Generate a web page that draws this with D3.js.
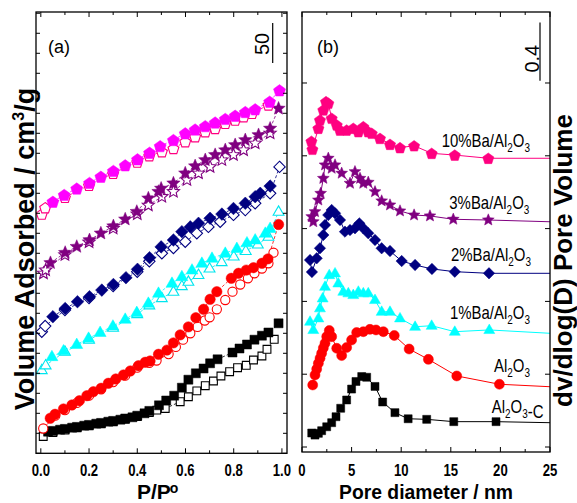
<!DOCTYPE html>
<html><head><meta charset="utf-8">
<script src="https://cdn.jsdelivr.net/npm/d3@7"></script>
<style>
body{margin:0;background:#fff}
svg{display:block}
text{font-family:"Liberation Sans",Arial,sans-serif}
</style>
</head><body>
<svg id="c" width="577" height="503"></svg>
<script>
// ---------------- Panel (a): N2 isotherms, [P/P0, volume (cm3/g, stacked)] ----------------
const alC_ads = [[0.03,27],[0.05,28],[0.08,29.5],[0.10,30.5],[0.13,32],[0.15,33],[0.18,34.5],[0.20,35.5],[0.23,37],[0.25,38],[0.28,39.5],[0.30,40.5],[0.33,42],[0.35,43.5],[0.38,45],[0.40,47],[0.43,50],[0.45,53],[0.49,60],[0.52,66],[0.553,72],[0.585,82],[0.612,92],[0.643,100],[0.675,106],[0.702,112.5],[0.733,117.5],[0.795,126],[0.824,131],[0.855,136],[0.886,142],[0.917,147],[0.944,151],[0.986,162.5]];
const alC_des = [[0.01,21],[0.05,26],[0.10,29],[0.15,32],[0.20,34.5],[0.25,37],[0.30,39.5],[0.35,42.5],[0.40,46],[0.45,51],[0.481,54],[0.516,56],[0.578,64.5],[0.612,70.7],[0.647,78],[0.682,84.5],[0.716,90.4],[0.747,96.6],[0.783,102],[0.816,107],[0.852,110],[0.882,116.6],[0.917,121.6],[0.938,130],[0.968,142.5]];
const al_ads = [[0.039,43.75],[0.059,48.75],[0.094,55.4],[0.129,60.4],[0.160,65.75],[0.191,72],[0.218,77],[0.250,81.25],[0.280,87.5],[0.311,92.9],[0.343,97.9],[0.371,102.9],[0.405,109.5],[0.433,113.75],[0.453,115.4],[0.488,123.75],[0.523,129],[0.550,138],[0.578,148],[0.612,158],[0.643,169.5],[0.675,180],[0.702,192.5],[0.730,202],[0.790,218.75],[0.820,225],[0.852,229],[0.882,232],[0.917,237.5],[0.942,243],[0.986,286]];
const al_des = [[0.01,31],[0.06,47],[0.10,54],[0.15,63],[0.20,72],[0.25,80],[0.30,89],[0.35,97],[0.40,107],[0.45,113],[0.48,116],[0.53,124],[0.56,133],[0.59,142],[0.62,150],[0.65,158],[0.68,166],[0.70,170],[0.73,180],[0.765,191.6],[0.795,202],[0.827,211],[0.859,218.75],[0.886,225],[0.917,231],[0.944,237.5],[0.965,250.75]];
const ba1_ads = [[0.046,120.75],[0.094,128],[0.149,136],[0.198,143.75],[0.246,151],[0.299,159],[0.350,167.5],[0.398,176],[0.446,187.5],[0.488,200],[0.544,212.5],[0.585,220.75],[0.627,229],[0.668,237.5],[0.710,243.75],[0.765,250],[0.813,256],[0.855,263],[0.889,266.6],[0.931,275],[0.951,281]];
const ba1_des = [[0.004,104],[0.02,110],[0.10,127],[0.20,142],[0.30,157],[0.40,174],[0.45,185],[0.502,194],[0.550,202],[0.585,209],[0.612,214.5],[0.654,223],[0.70,231],[0.75,239],[0.80,246],[0.85,253],[0.90,261],[0.944,270.75],[0.986,302]];
const ba2_ads = [[0.050,170.75],[0.101,181],[0.152,189.5],[0.202,195.75],[0.253,204],[0.301,211],[0.353,219.5],[0.401,230],[0.451,244.5],[0.499,258],[0.550,266.6],[0.585,277],[0.620,283],[0.654,287.5],[0.702,293.75],[0.751,299],[0.799,306],[0.848,312.5],[0.889,320.75],[0.910,325],[0.951,334]];
const ba2_des = [[0.004,152],[0.018,159],[0.10,179],[0.20,194],[0.30,209],[0.40,227],[0.45,240],[0.502,250],[0.55,256.6],[0.599,264.5],[0.647,275],[0.695,283],[0.744,289.5],[0.799,298],[0.848,304],[0.889,312.5],[0.951,325],[0.99,358]];
const ba3_ads = [[0.04,238],[0.101,250.75],[0.149,258.25],[0.202,266.6],[0.249,275],[0.301,284],[0.350,292.5],[0.398,302],[0.446,318.75],[0.488,327],[0.499,331],[0.550,337.5],[0.599,350],[0.640,359],[0.682,366.6],[0.723,373],[0.765,379],[0.806,385.4],[0.848,391.6],[0.903,397.9],[0.951,406],[0.986,431]];
const ba3_des = [[0.011,225],[0.02,229],[0.10,248],[0.20,264],[0.30,281],[0.40,299],[0.446,310],[0.502,320.75],[0.55,327],[0.606,341.6],[0.654,350],[0.702,358],[0.751,366.6],[0.799,373],[0.841,379],[0.889,387.5],[0.951,400]];
const ba10_ads = [[0.050,314.5],[0.097,323],[0.149,331],[0.202,338],[0.249,345.75],[0.301,353],[0.350,360],[0.401,367.5],[0.451,375.75],[0.495,384],[0.550,391.6],[0.599,400],[0.640,404.75],[0.682,409],[0.723,413.5],[0.765,418],[0.806,422],[0.848,426.6],[0.889,430],[0.949,439.5],[0.990,453.75]];
const ba10_des = [[0.004,299],[0.018,307],[0.10,320],[0.20,335],[0.30,350],[0.40,364],[0.45,372],[0.502,377],[0.55,381],[0.599,389.5],[0.64,395.75],[0.682,402],[0.723,406],[0.765,412.5],[0.806,416.6],[0.841,420.75],[0.876,425],[0.944,435.4]];
const xTicksA = [0,0.1,0.2,0.3,0.4,0.5,0.6,0.7,0.8,0.9,1.0];
const scaleBarA = [538, 50];          // top value, length (cm3/g)

// ---------------- Panel (b): pore size distribution, [diameter nm, dV/dlogD (stacked)] ----------------
const psd10 = [[0.95,2.10],[1.05,2.045],[1.65,2.189],[1.81,2.246],[2.15,2.315],[2.42,2.372],[2.65,2.361],[2.99,2.258],[3.5,2.212],[3.83,2.177],[4.5,2.177],[5.17,2.189],[5.68,2.166],[6.18,2.2],[6.68,2.166],[7.03,2.155],[7.86,2.12],[8.87,2.079],[9.88,2.056],[11.3,2.069],[13.07,2.017],[15.4,2.005],[18.78,1.983]];
const psd3 = [[0.98,1.582],[1.14,1.547],[1.31,1.616],[1.65,1.696],[1.88,1.742],[2.15,1.845],[2.32,1.937],[2.65,1.983],[2.99,1.914],[3.33,1.937],[4.0,1.880],[4.84,1.811],[5.34,1.891],[5.85,1.845],[6.18,1.811],[6.68,1.818],[7.36,1.753],[8.03,1.690],[8.87,1.662],[9.88,1.621],[11.3,1.593],[12.9,1.587],[15.25,1.564],[18.78,1.559]];
const psd2 = [[0.81,1.284],[1.0,1.202],[1.48,1.296],[1.81,1.365],[2.15,1.456],[2.32,1.525],[2.65,1.593],[2.99,1.628],[3.33,1.605],[3.83,1.559],[4.33,1.479],[4.84,1.490],[5.34,1.502],[5.78,1.536],[6.18,1.502],[6.68,1.468],[7.36,1.422],[8.03,1.365],[8.87,1.346],[10.05,1.277],[11.4,1.250],[13.1,1.223],[15.4,1.204],[18.85,1.193]];
const psd1 = [[0.81,0.861],[1.14,0.804],[1.65,0.884],[1.81,0.953],[2.08,1.021],[2.32,1.101],[2.75,1.181],[3.33,1.193],[3.66,1.124],[4.16,1.067],[4.67,1.056],[5.17,1.044],[5.68,1.067],[6.18,1.056],[6.68,1.056],[7.36,1.010],[8.03,0.929],[8.87,0.929],[9.88,0.884],[11.4,0.826],[13.07,0.833],[15.4,0.792],[18.88,0.804]];
const psdAl = [[1.08,0.426],[1.31,0.495],[1.48,0.535],[1.65,0.575],[1.82,0.61],[1.98,0.644],[2.15,0.68],[2.32,0.712],[2.49,0.758],[2.75,0.80],[2.99,0.758],[3.5,0.678],[4.0,0.628],[4.5,0.683],[5.0,0.735],[5.51,0.786],[6.18,0.792],[6.85,0.808],[7.46,0.804],[8.2,0.792],[9.3,0.766],[10.8,0.673],[12.74,0.602],[15.6,0.488],[19.9,0.431]];
const psdAlC = [[0.98,0.096],[1.31,0.082],[1.65,0.094],[1.98,0.112],[2.49,0.139],[2.99,0.167],[3.43,0.208],[3.9,0.266],[4.5,0.323],[5.0,0.398],[5.44,0.450],[6.02,0.484],[6.52,0.479],[7.36,0.416],[8.13,0.309],[9.37,0.236],[10.7,0.194],[12.57,0.190],[15.3,0.174],[19.56,0.174]];
const psdTail = [1.983,1.547,1.193,0.781,0.414,0.167];   // value where each curve meets x = 25 nm
const labelsB = ["10%Ba/Al2O3","3%Ba/Al2O3","2%Ba/Al2O3","1%Ba/Al2O3","Al2O3","Al2O3-C"];
const xTicksB = [0,2.5,5,7.5,10,12.5,15,17.5,20,22.5,25];
const yTicksB = [0,0.5,1,1.5,2,2.5];
const scaleBarB = [2.915, 0.4];

// ---------------- drawing ----------------
const svg = d3.select("#c");
const xA = d3.scaleLinear().domain([-0.02,1.021]).range([36,287]);
const yA = d3.scaleLinear().domain([0,551.6]).range([453.3,12]);
const xB = d3.scaleLinear().domain([0,25]).range([302,550]);
const yB = d3.scaleLinear().domain([-0.0343,2.9876]).range([452,12]);

function shape(type, r){
  const p = d3.path();
  if(type==="square"){ p.rect(-r,-r,2*r,2*r); }
  else if(type==="circle"){ p.moveTo(r,0); p.arc(0,0,r,0,2*Math.PI); }
  else if(type==="triangle"){ const h=r*1.732; p.moveTo(0,-h*0.62); p.lineTo(r,h*0.38); p.lineTo(-r,h*0.38); p.closePath(); }
  else if(type==="diamond"){ p.moveTo(0,-r); p.lineTo(r,0); p.lineTo(0,r); p.lineTo(-r,0); p.closePath(); }
  else if(type==="star"){ for(let i=0;i<10;i++){ const a=-Math.PI/2+i*Math.PI/5, rr=i%2?r*0.45:r; const px=rr*Math.cos(a), py=rr*Math.sin(a); i?p.lineTo(px,py):p.moveTo(px,py);} p.closePath(); }
  else if(type==="pentagon"){ for(let i=0;i<5;i++){ const a=-Math.PI/2+i*2*Math.PI/5; const px=r*Math.cos(a), py=r*Math.sin(a)+r*0.1; i?p.lineTo(px,py):p.moveTo(px,py);} p.closePath(); }
  return p.toString();
}

function frame(x,y){
  const [x0,x1]=x.range(), [y0,y1]=y.range();
  svg.append("rect").attr("x",x0).attr("y",y1).attr("width",x1-x0).attr("height",y0-y1)
    .attr("fill","none").attr("stroke","#000").attr("stroke-width",1.3);
}

// --- panel (a) series ---
const seriesA = [
  {ads:alC_ads, des:alC_des, color:"#000000", ocolor:"#000000", type:"square", r:4.5},
  {ads:al_ads, des:al_des, color:"#ff0000", ocolor:"#ff0000", type:"circle", r:5.2},
  {ads:ba1_ads, des:ba1_des, color:"#00ffff", ocolor:"#00e5ee", type:"triangle", r:6},
  {ads:ba2_ads, des:ba2_des, color:"#000080", ocolor:"#000080", type:"diamond", r:6.3},
  {ads:ba3_ads, des:ba3_des, color:"#800080", ocolor:"#800080", type:"star", r:7},
  {ads:ba10_ads, des:ba10_des, color:"#ff00ff", ocolor:"#ff0080", type:"pentagon", r:6.3}
];
const lineA = d3.line().x(d=>xA(d[0])).y(d=>yA(d[1]));
const gA = svg.append("g");
seriesA.forEach(s=>{
  gA.append("path").attr("d",lineA(s.des)).attr("fill","none").attr("stroke",s.ocolor).attr("stroke-width",0.8).attr("stroke-dasharray","3,2");
  gA.append("path").attr("d",lineA(s.ads)).attr("fill","none").attr("stroke",s.color).attr("stroke-width",0.8).attr("stroke-dasharray","3,2");
  gA.selectAll(null).data(s.des).join("path")
    .attr("transform",d=>`translate(${xA(d[0])},${yA(d[1])})`)
    .attr("d",shape(s.type,s.r-0.6)).attr("fill","#fff").attr("stroke",s.ocolor).attr("stroke-width",1.1);
  gA.selectAll(null).data(s.ads).join("path")
    .attr("transform",d=>`translate(${xA(d[0])},${yA(d[1])})`)
    .attr("d",shape(s.type,s.r)).attr("fill",s.color).attr("stroke",s.color).attr("stroke-width",0.5);
});

// --- panel (b) series ---
const seriesB = [
  {data:psd10, color:"#ff0080", type:"pentagon", r:5.9},
  {data:psd3, color:"#800080", type:"star", r:6.2},
  {data:psd2, color:"#000080", type:"diamond", r:5.7},
  {data:psd1, color:"#00ffff", type:"triangle", r:5.5},
  {data:psdAl, color:"#ff0000", type:"circle", r:5},
  {data:psdAlC, color:"#000000", type:"square", r:4}
];
const lineB = d3.line().x(d=>xB(d[0])).y(d=>yB(d[1]));
const gB = svg.append("g");
seriesB.forEach((s,i)=>{
  const full = s.data.concat([[25, psdTail[i]]]);
  gB.append("path").attr("d",lineB(full)).attr("fill","none").attr("stroke",s.color).attr("stroke-width",1);
  gB.selectAll(null).data(s.data).join("path")
    .attr("transform",d=>`translate(${xB(d[0])},${yB(d[1])})`)
    .attr("d",shape(s.type,s.r)).attr("fill",s.color).attr("stroke",s.color).attr("stroke-width",0.5);
});

// frames
frame(xA,yA); frame(xB,yB);

// ticks helper
function ticksX(x,y,vals,isMajor){
  const [y0,y1]=y.range();
  vals.forEach(v=>{
    const L = isMajor(v)?5:3, px=x(v);
    svg.append("line").attr("x1",px).attr("x2",px).attr("y1",y0).attr("y2",y0-L).attr("stroke","#000").attr("stroke-width",1);
    svg.append("line").attr("x1",px).attr("x2",px).attr("y1",y1).attr("y2",y1+L).attr("stroke","#000").attr("stroke-width",1);
  });
}
function ticksY(x,y,vals,L){
  const [x0,x1]=x.range();
  vals.forEach(v=>{
    const py=y(v);
    svg.append("line").attr("x1",x0).attr("x2",x0+L).attr("y1",py).attr("y2",py).attr("stroke","#000").attr("stroke-width",1);
    svg.append("line").attr("x1",x1).attr("x2",x1-L).attr("y1",py).attr("y2",py).attr("stroke","#000").attr("stroke-width",1);
  });
}
ticksX(xA,yA,xTicksA,v=>Math.round(v*10)%2===0);
ticksY(xA,yA,d3.range(0,551,25),4);
ticksX(xB,yB,xTicksB,v=>v%5===0);
ticksY(xB,yB,yTicksB,5);

// tick labels
function tickLabel(px,txt){
  svg.append("text").attr("transform",`translate(${px},476) scale(0.82,1)`)
    .attr("text-anchor","middle").attr("font-size",16).attr("font-weight","bold").text(txt);
}
xTicksA.filter(v=>Math.round(v*10)%2===0).forEach(v=>tickLabel(xA(v),d3.format(".1f")(v)));
xTicksB.filter(v=>v%5===0).forEach(v=>tickLabel(xB(v),String(v)));

// axis titles
const tP = svg.append("text").attr("x",137).attr("y",498.5).attr("font-size",21).attr("font-weight","bold");
tP.append("tspan").text("P/P");
tP.append("tspan").attr("dx",-1).attr("dy",-6).attr("font-size",14).text("o");
svg.append("text").attr("x",339).attr("y",498.5).attr("font-size",21).attr("font-weight","bold")
  .attr("textLength",174).attr("lengthAdjust","spacingAndGlyphs").text("Pore diameter / nm");
const tY = svg.append("text").attr("transform","translate(34,249) rotate(-90)").attr("text-anchor","middle")
  .attr("font-size",27).attr("font-weight","bold");
tY.append("tspan").text("Volume Adsorbed / cm");
tY.append("tspan").attr("dy",-10).attr("font-size",16).text("3");
tY.append("tspan").attr("dy",10).text("/g");
svg.append("text").attr("transform","translate(572,260.5) rotate(-90)").attr("text-anchor","middle")
  .attr("font-size",26).attr("font-weight","bold").text("dv/dlog(D) Pore Volume");

// panel tags
svg.append("text").attr("x",48).attr("y",53).attr("font-size",18).text("(a)");
svg.append("text").attr("x",317).attr("y",53).attr("font-size",18).text("(b)");

// scale bars
svg.append("line").attr("x1",272.7).attr("x2",272.7).attr("y1",yA(scaleBarA[0])).attr("y2",yA(scaleBarA[0]-scaleBarA[1])).attr("stroke","#000").attr("stroke-width",1.2);
svg.append("text").attr("transform",`translate(268.5,${(yA(scaleBarA[0])+yA(scaleBarA[0]-scaleBarA[1]))/2+1}) rotate(-90)`)
  .attr("text-anchor","middle").attr("font-size",20).text(String(scaleBarA[1]));
svg.append("line").attr("x1",540).attr("x2",540).attr("y1",yB(scaleBarB[0])).attr("y2",yB(scaleBarB[0]-scaleBarB[1])).attr("stroke","#000").attr("stroke-width",1.2);
svg.append("text").attr("transform",`translate(538.5,${(yB(scaleBarB[0])+yB(scaleBarB[0]-scaleBarB[1]))/2+7}) rotate(-90)`)
  .attr("text-anchor","middle").attr("font-size",20).text(scaleBarB[1].toFixed(1));

// curve labels (panel b)
const labelPos = [[441.7,146.7],[449.3,209.3],[451,261],[450,318.5],[494,372],[491.7,413.3]];
labelsB.forEach((lab,i)=>{
  const t = svg.append("text").attr("transform",`translate(${labelPos[i][0]},${labelPos[i][1]}) scale(0.83,1)`).attr("font-size",18);
  const parts = lab.match(/Al2O3|[^A]+|A/g);
  parts.forEach(p=>{
    if(p==="Al2O3"){
      t.append("tspan").text("Al");
      t.append("tspan").attr("dy",5).attr("font-size",12).text("2");
      t.append("tspan").attr("dy",-5).text("O");
      t.append("tspan").attr("dy",5).attr("font-size",12).text("3");
      t.append("tspan").attr("dy",-5).text("");
    } else {
      t.append("tspan").text(p);
    }
  });
});
</script>
</body></html>
